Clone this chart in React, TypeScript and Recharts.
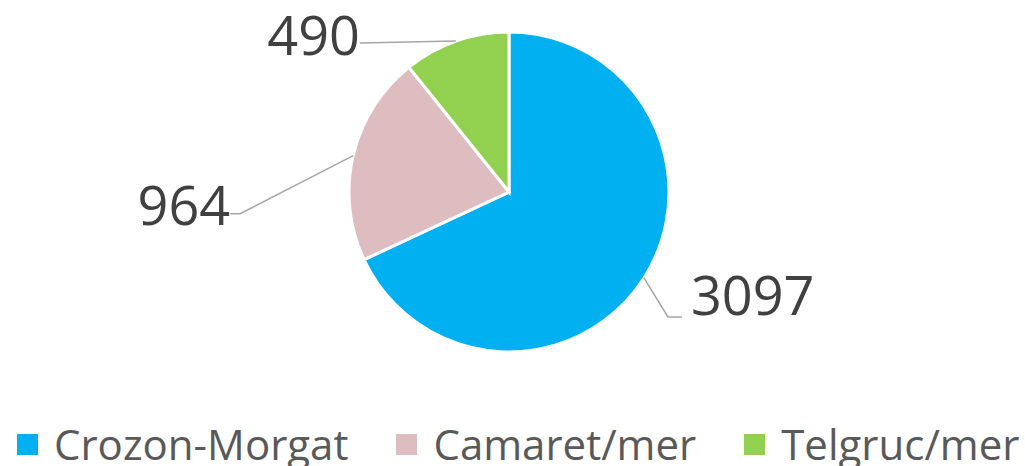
import React from "react";
import { Legend, Pie, PieChart, Cell } from "recharts";

const communes = ["Crozon-Morgat", "Camaret/mer", "Telgruc/mer"];
const counts = [3097, 964, 490];
const colors = ["#00B0F0", "#DDBDBF", "#92D050"];

// leader line elbow / end offsets from the slice edge, and where the text sits
const labelLayout = [
  { ex: 24, ey: 39, tx: 14, anchor: "start", gap: 9, base: -2 },
  { ex: -113, ey: 58, tx: -10, anchor: "end", gap: 0, base: 11 },
  { ex: -96, ey: 2, tx: 0, anchor: "end", gap: 0, base: 12 },
];

const data = communes.map((name, i) => ({ name, value: counts[i] }));

const RAD = Math.PI / 180;

function renderLabel(props: any) {
  const { cx, cy, midAngle, outerRadius, index, value } = props;
  const l = labelLayout[index];
  const x0 = cx + outerRadius * Math.cos(-midAngle * RAD);
  const y0 = cy + outerRadius * Math.sin(-midAngle * RAD);
  const x1 = x0 + l.ex;
  const y1 = y0 + l.ey;
  const x2 = x1 + l.tx;
  const tx = l.anchor === "start" ? x2 + l.gap : x2 - l.gap;
  return (
    <g>
      <polyline points={`${x0},${y0} ${x1},${y1} ${x2},${y1}`} fill="none" stroke="#A6A6A6" strokeWidth={1.5} />
      <text x={tx} y={y1 + l.base} textAnchor={l.anchor} fill="#404040" fontSize={54} fontFamily="'Open Sans', sans-serif">
        {value}
      </text>
    </g>
  );
}

function renderLegend() {
  return (
    <div style={{ display: "flex", whiteSpace: "nowrap", fontFamily: "'Open Sans', sans-serif", fontSize: 42, color: "#595959", lineHeight: "50px" }}>
      {communes.map((name, i) => (
        <div key={name} style={{ display: "flex", alignItems: "center", marginRight: 48 }}>
          <span style={{ width: 21, height: 21, background: colors[i], marginRight: 16, display: "inline-block", flexShrink: 0 }} />
          <span>{name}</span>
        </div>
      ))}
    </div>
  );
}

export default function App() {
  return (
    <div style={{ position: "absolute", left: 0, top: 0, width: 1025, height: 466, background: "#fff", overflow: "hidden" }}>
      <PieChart width={1025} height={466} margin={{ top: 0, right: 0, bottom: 0, left: 0 }}>
        <Pie
          data={data}
          dataKey="value"
          nameKey="name"
          cx={509}
          cy={192}
          outerRadius={160}
          startAngle={90}
          endAngle={-270}
          stroke="#fff"
          strokeWidth={3}
          label={renderLabel}
          labelLine={false}
          isAnimationActive={false}
        >
          {data.map((d, i) => (
            <Cell key={d.name} fill={colors[i]} />
          ))}
        </Pie>
        <Legend content={renderLegend} wrapperStyle={{ position: "absolute", left: 17, top: 419, width: 1010 }} />
      </PieChart>
    </div>
  );
}
